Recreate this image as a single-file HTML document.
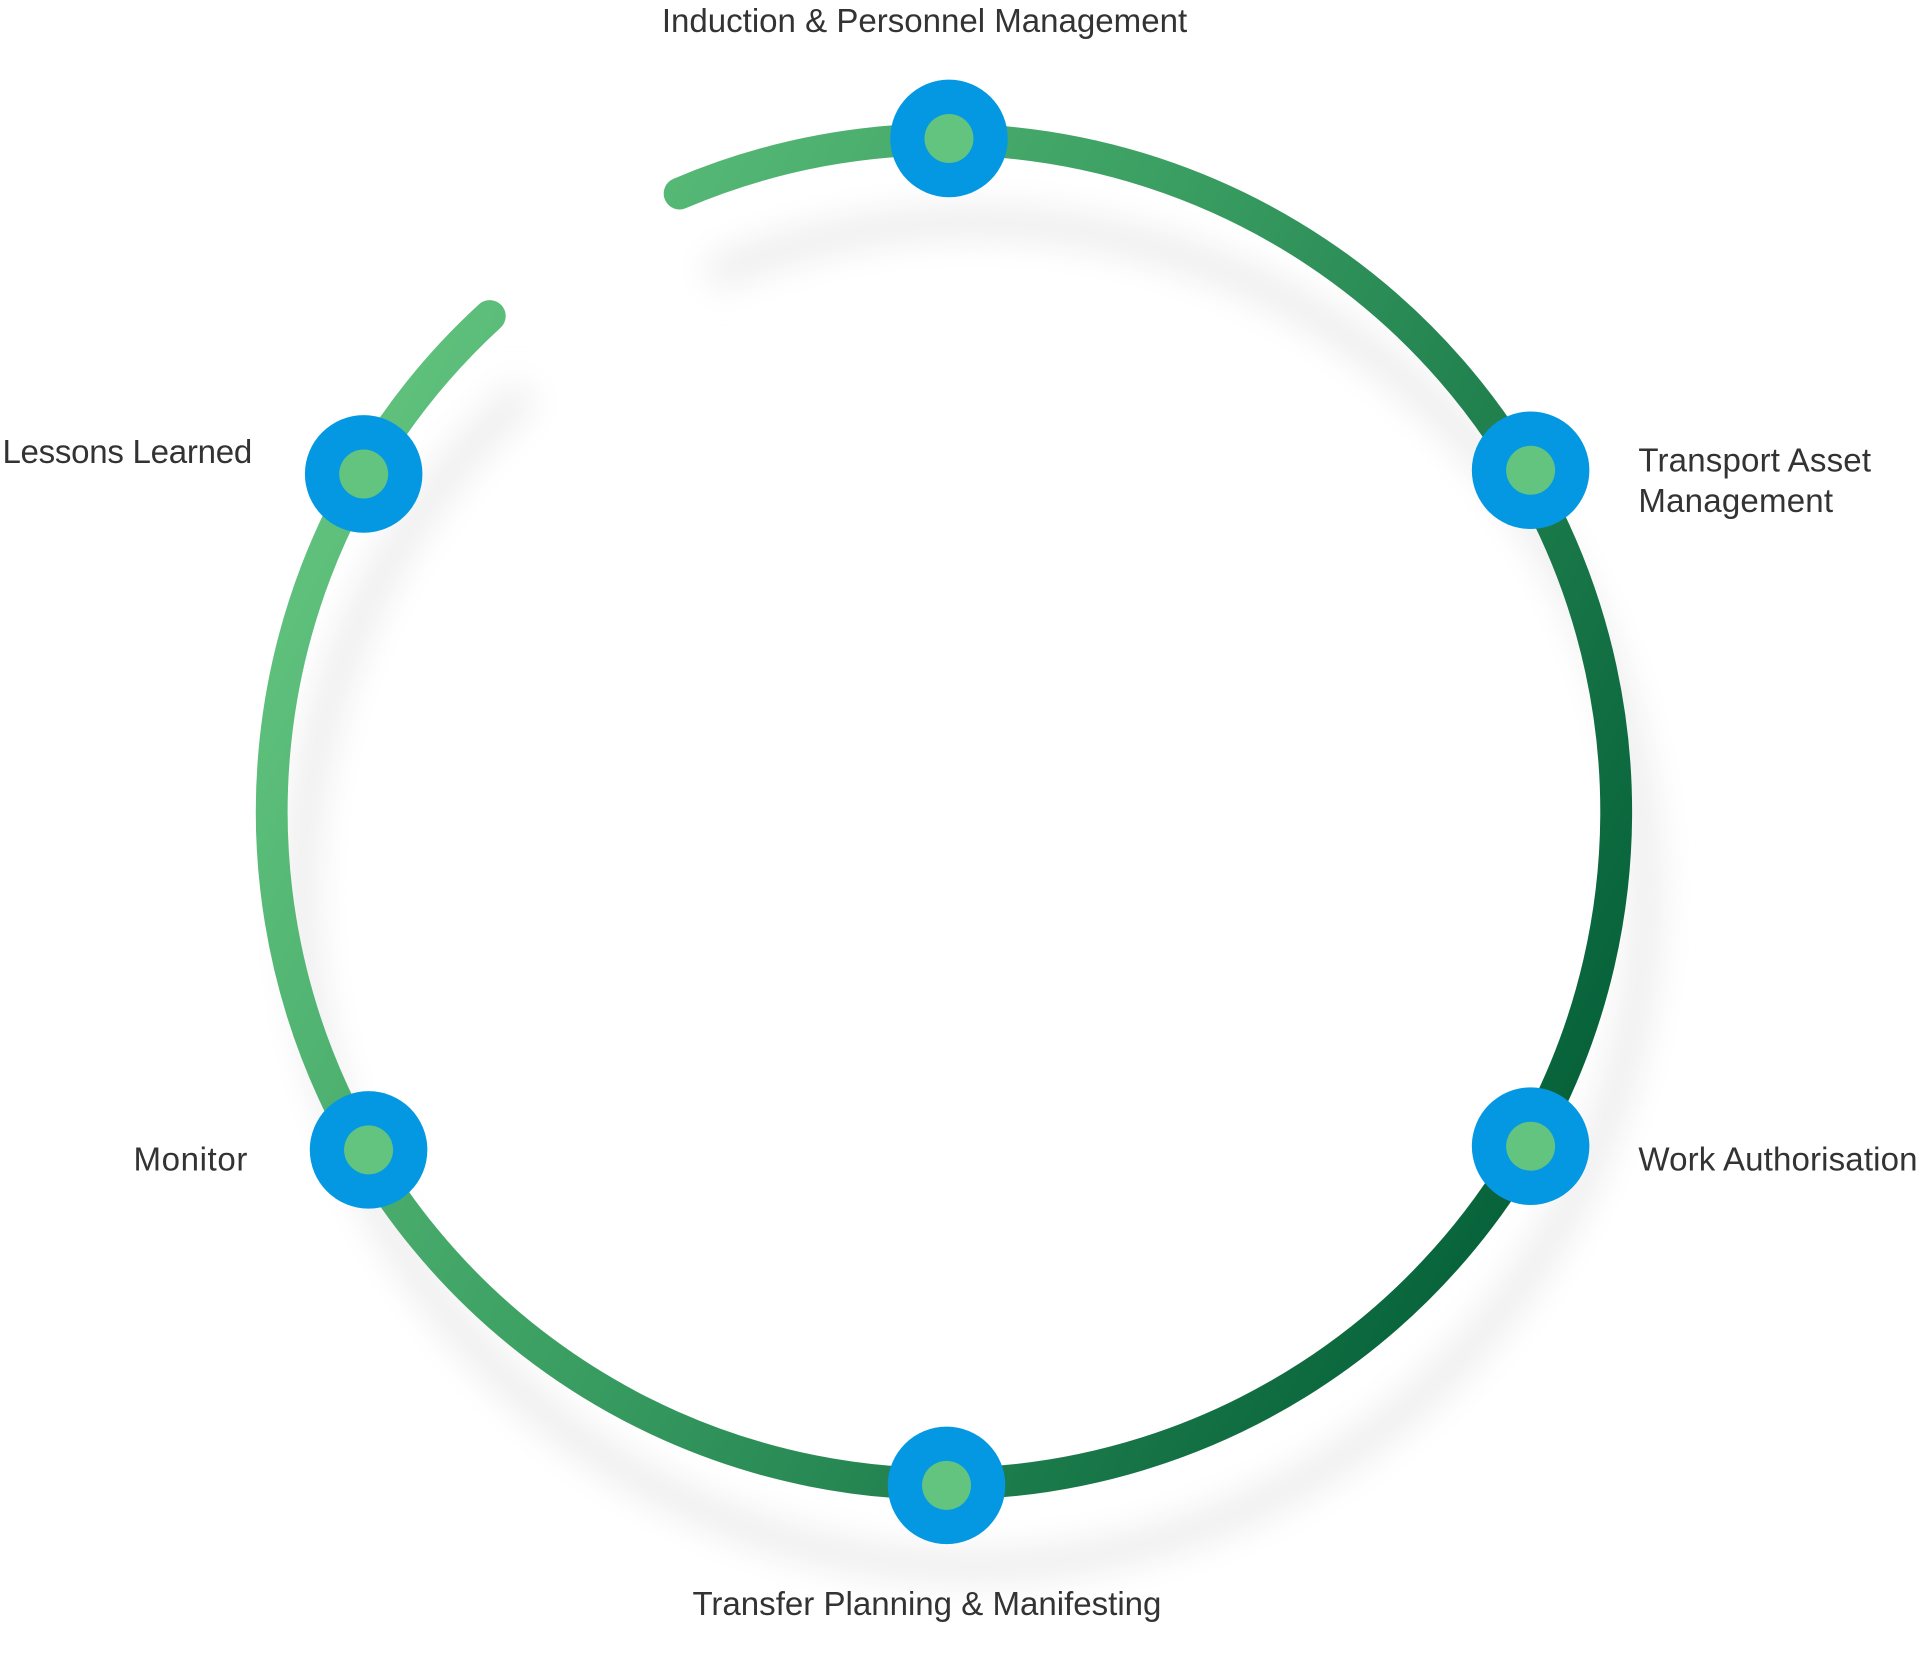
<!DOCTYPE html>
<html><head><meta charset="utf-8"><style>
html,body{margin:0;padding:0;background:#fff;width:1920px;height:1663px;overflow:hidden}
svg{display:block}
text{font-family:"Liberation Sans",sans-serif;font-size:27px;fill:#333}
</style></head><body>
<svg width="1920" height="1663" viewBox="0 0 1568 1358" xmlns="http://www.w3.org/2000/svg">
<defs>
<linearGradient id="g" x1="250" y1="350" x2="1320" y2="900" gradientUnits="userSpaceOnUse">
<stop offset="0" stop-color="#62c47e"/>
<stop offset="0.45" stop-color="#3a9e62"/>
<stop offset="1" stop-color="#045f38"/>
</linearGradient>
<filter id="b" x="-20%" y="-20%" width="140%" height="140%"><feGaussianBlur stdDeviation="14"/></filter>
</defs>
<path d="M580 205 A549 549 0 1 1 430 300" fill="none" stroke="#ececec" stroke-width="24" filter="url(#b)" transform="translate(0,20)"/>
<path d="M555 158 A549 549 0 1 1 400 258" fill="none" stroke="url(#g)" stroke-width="26" stroke-linecap="round"/>
<g fill="#0598e2">
<circle cx="775" cy="113" r="48"/><circle cx="1250" cy="384" r="48"/><circle cx="1250" cy="936" r="48"/>
<circle cx="773" cy="1213" r="48"/><circle cx="301" cy="939" r="48"/><circle cx="297" cy="387" r="48"/>
</g>
<g fill="#62c47e">
<circle cx="775" cy="113" r="20"/><circle cx="1250" cy="384" r="20"/><circle cx="1250" cy="936" r="20"/>
<circle cx="773" cy="1213" r="20"/><circle cx="301" cy="939" r="20"/><circle cx="297" cy="387" r="20"/>
</g>
<text x="755" y="26" text-anchor="middle" textLength="429">Induction &amp; Personnel Management</text>
<text x="2" y="378" textLength="204">Lessons Learned</text>
<text x="1338" y="385" textLength="190">Transport Asset</text>
<text x="1338" y="418" textLength="159">Management</text>
<text x="1338" y="956" textLength="228">Work Authorisation</text>
<text x="202" y="956" text-anchor="end" textLength="93">Monitor</text>
<text x="757" y="1319" text-anchor="middle" textLength="383">Transfer Planning &amp; Manifesting</text>
</svg>
</body></html>
